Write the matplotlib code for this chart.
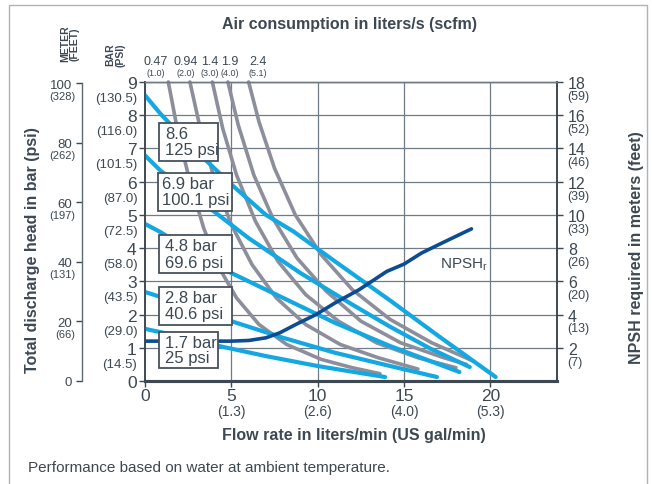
import numpy as np
import matplotlib.pyplot as plt
from matplotlib.patches import Rectangle

plt.rcParams['font.family'] = ['Liberation Sans', 'DejaVu Sans']
plt.rcParams['mathtext.fontset'] = 'custom'
plt.rcParams['mathtext.rm'] = 'Liberation Sans'

TEXT = '#3d4852'
BLUE = '#13a8e2'
GRAY = '#8c8e9b'
NAVY = '#0c4c93'
GRID = '#6f7b87'

# Head axis (bar) with psi equivalents
head_bar = [0, 1, 2, 3, 4, 5, 6, 7, 8, 9]
head_psi = ['', '(14.5)', '(29.0)', '(43.5)', '(58.0)', '(72.5)', '(87.0)', '(101.5)', '(116.0)', '(130.5)']

# Head axis (meters) with feet equivalents
head_m = [0, 20, 40, 60, 80, 100]
head_ft = ['', '(66)', '(131)', '(197)', '(262)', '(328)']

# NPSH axis (meters) with feet equivalents
npsh_m = [2, 4, 6, 8, 10, 12, 14, 16, 18]
npsh_ft = ['(7)', '(13)', '(20)', '(26)', '(33)', '(39)', '(46)', '(52)', '(59)']

# Flow axis (l/min) with US gal/min equivalents
flow_lpm = [0, 5, 10, 15, 20]
flow_gpm = ['', '(1.3)', '(2.6)', '(4.0)', '(5.3)']

# Air consumption labels, liters/s (scfm)
air_ls = ['0.47', '0.94', '1.4', '1.9', '2.4']
air_scfm = ['(1.0)', '(2.0)', '(3.0)', '(4.0)', '(5.1)']
air_label_x = [0.64, 2.37, 3.76, 4.92, 6.54]

# Performance curves at each inlet air pressure: flow (l/min), head (bar)
perf_labels = [('8.6', '125 psi'), ('6.9 bar', '100.1 psi'), ('4.8 bar', '69.6 psi'),
               ('2.8 bar', '40.6 psi'), ('1.7 bar', '25 psi')]
perf_flow = [
    [0, 0.9, 3, 5.1, 7, 8.6, 11, 14.2, 17, 20.3],
    [0, 0.9, 3, 6, 9, 12, 14.2, 16.5, 18.8],
    [0, 0.9, 3, 5, 8, 11, 14.2, 16, 18.2],
    [0, 0.9, 3, 5, 8, 11, 14.2, 16.9],
    [0, 0.9, 2, 4.4, 7, 10, 12, 13.9],
]
perf_head = [
    [8.6, 8.04, 6.9, 5.87, 5.0, 4.5, 3.6, 2.42, 1.35, 0.12],
    [6.79, 6.33, 5.5, 4.3, 3.25, 2.3, 1.63, 0.98, 0.42],
    [4.73, 4.48, 3.8, 3.25, 2.5, 1.75, 1.05, 0.7, 0.27],
    [2.68, 2.53, 2.2, 1.8, 1.3, 0.85, 0.45, 0.12],
    [1.57, 1.47, 1.35, 1.04, 0.75, 0.45, 0.28, 0.12],
]

# Air consumption curves: flow (l/min), head (bar)
air_flow = [
    [1.35, 1.9, 2.6, 3.4, 4.3, 5.3, 6.6, 8.2, 10.2, 12.0, 13.6],
    [2.6, 3.2, 4.0, 5.0, 6.2, 7.6, 9.3, 11.3, 13.5, 15.8],
    [3.9, 4.5, 5.3, 6.4, 7.7, 9.3, 11.2, 13.4, 15.8, 18.0],
    [4.8, 5.4, 6.3, 7.4, 8.8, 10.5, 12.5, 14.8, 17.3, 18.6],
    [6.0, 6.6, 7.5, 8.7, 10.2, 12.0, 14.2, 16.6, 19.0],
]
air_head = [
    [9, 7.5, 6.0, 4.6, 3.4, 2.5, 1.7, 1.1, 0.65, 0.4, 0.22],
    [9, 7.6, 6.1, 4.7, 3.5, 2.5, 1.7, 1.1, 0.7, 0.36],
    [9, 7.6, 6.2, 4.8, 3.6, 2.6, 1.8, 1.15, 0.7, 0.4],
    [9, 7.7, 6.2, 4.9, 3.7, 2.7, 1.8, 1.15, 0.7, 0.5],
    [9, 7.8, 6.4, 5.0, 3.8, 2.75, 1.85, 1.15, 0.6],
]

# NPSH required: flow (l/min), meters
npsh_flow = [0, 5, 6, 7, 7.8, 8.8, 9.9, 11, 12.4, 14, 15, 16, 17.1, 18.9]
npsh_req = [2.4, 2.4, 2.44, 2.6, 2.9, 3.44, 4.0, 4.7, 5.5, 6.6, 7.04, 7.7, 8.26, 9.16]

W, H = 652, 485
fig = plt.figure(figsize=(W / 100, H / 100), dpi=100)

# outer frame
fig.patches.append(Rectangle((9 / W, -0.05), (647 - 9) / W, 1.05 - 6 / H,
                             transform=fig.transFigure, fill=False,
                             ec='#aab4be', lw=1.0))

ax = fig.add_axes([145 / W, 1 - 382 / H, (557 - 145) / W, (382 - 83) / H])
ax.set_xlim(0, 23.85)
ax.set_ylim(0, 9)

for x in [5, 10, 15, 20]:
    ax.axvline(x, color=GRID, lw=0.9, zorder=1)
for y in range(1, 10):
    ax.axhline(y, color=GRID, lw=0.9, zorder=1)

for f, h in zip(air_flow, air_head):
    ax.plot(f, h, color=GRAY, lw=2.6, solid_capstyle='round', zorder=2, clip_on=False)
for f, h in zip(perf_flow, perf_head):
    ax.plot(f, h, color=BLUE, lw=3.0, solid_capstyle='round', zorder=3)

ax2 = ax.twinx()
ax2.set_ylim(0, 18)
ax2.plot(npsh_flow, npsh_req, color=NAVY, lw=2.6, solid_capstyle='round', zorder=4)
ax2.text(17.1, 7.05, r'NPSH$_{\mathrm{r}}$', fontsize=11, color=TEXT, va='center')

# pressure label boxes
box_geom = [(0.8, 6.63, 3.45, 1.14), (0.78, 5.12, 4.25, 1.14), (0.8, 3.25, 4.23, 1.14),
            (0.8, 1.69, 4.22, 1.14), (0.8, 0.38, 3.45, 1.1)]
for (x0, y0, w, h), (l1, l2) in zip(box_geom, perf_labels):
    ax2.add_patch(Rectangle((x0, y0 * 2), w, h * 2, fc='white', ec='#46525e',
                            lw=1.3, zorder=6))
    tx = x0 + 0.36 if l1 != '6.9 bar' else x0 + 0.18
    ax2.text(tx, (y0 + h * 0.72) * 2, l1, fontsize=12, color=TEXT, va='center', zorder=7)
    ax2.text(tx, (y0 + h * 0.29) * 2, l2, fontsize=12, color=TEXT, va='center', zorder=7)

for a in (ax, ax2):
    for s in a.spines.values():
        s.set_color('#3d4852')
        s.set_linewidth(1.2)
    a.spines['top'].set_color(GRID)
    a.spines['top'].set_linewidth(1.0)
ax.spines['bottom'].set_linewidth(2.2)
ax2.spines['bottom'].set_linewidth(2.2)

# left head axis (bar / psi)
ax.set_yticks(head_bar)
ax.set_yticklabels([str(v) for v in head_bar])
ax.tick_params(axis='y', length=4, width=1, colors=TEXT, labelsize=12.5, pad=2)
for v, t in zip(head_bar, head_psi):
    ax.annotate(t, xy=(0, v), xycoords=('axes fraction', 'data'), xytext=(-5.5, -11.5),
                textcoords='offset points', ha='right', va='center', fontsize=9.5, color=TEXT)

# flow axis
ax.set_xticks(flow_lpm)
ax.set_xticklabels([str(v) for v in flow_lpm])
ax.tick_params(axis='x', length=4, width=1, colors=TEXT, labelsize=12.5, pad=1)
for v, t in zip(flow_lpm, flow_gpm):
    ax.annotate(t, xy=(v, 0), xycoords=('data', 'axes fraction'), xytext=(0, -21.5),
                textcoords='offset points', ha='center', va='center', fontsize=10, color=TEXT)

# NPSH axis
ax2.set_yticks(npsh_m)
ax2.set_yticklabels([str(v) for v in npsh_m])
ax2.tick_params(axis='y', length=4, width=1, colors=TEXT, labelsize=11.5, pad=4)
for v, t in zip(npsh_m, npsh_ft):
    ax2.annotate(t, xy=(1, v), xycoords=('axes fraction', 'data'), xytext=(7.5, -10),
                 textcoords='offset points', ha='left', va='center', fontsize=9, color=TEXT)

# air consumption labels along the top
for x, t1, t2 in zip(air_label_x, air_ls, air_scfm):
    ax.annotate(t1, xy=(x, 1), xycoords=('data', 'axes fraction'), xytext=(0, 15),
                textcoords='offset points', ha='center', va='center', fontsize=9, color=TEXT)
    ax.annotate(t2, xy=(x, 1), xycoords=('data', 'axes fraction'), xytext=(0, 6.5),
                textcoords='offset points', ha='center', va='center', fontsize=6.5, color=TEXT)

# head axis in meters (feet)
axm = fig.add_axes([82 / W, 1 - 382 / H, 0.001, (382 - 83) / H])
axm.set_ylim(0, 100.5)
axm.set_xticks([])
for s in ['right', 'top', 'bottom']:
    axm.spines[s].set_visible(False)
axm.spines['left'].set_bounds(0, 100)
axm.spines['left'].set_color('#5d6975')
axm.spines['left'].set_linewidth(1.0)
axm.patch.set_visible(False)
axm.set_yticks(head_m)
axm.set_yticklabels([str(v) for v in head_m])
axm.tick_params(axis='y', length=4, width=1, colors=TEXT, labelsize=9.5, pad=3)
for v, t in zip(head_m, head_ft):
    axm.annotate(t, xy=(0, v), xycoords=('axes fraction', 'data'), xytext=(-4.5, -9),
                 textcoords='offset points', ha='right', va='center', fontsize=8, color=TEXT)

fig.text(70 / W, 1 - 44 / H, 'METER\n(FEET)', rotation=90, fontsize=7.5, fontweight='bold',
         color=TEXT, ha='center', va='center', linespacing=1.0)
fig.text(115 / W, 1 - 55 / H, 'BAR\n(PSI)', rotation=90, fontsize=7.5, fontweight='bold',
         color=TEXT, ha='center', va='center', linespacing=1.0)

fig.text(350 / W, 1 - 24 / H, 'Air consumption in liters/s (scfm)', fontsize=11.5,
         fontweight='bold', color=TEXT, ha='center', va='center')
fig.text(354 / W, 1 - 436 / H, 'Flow rate in liters/min (US gal/min)', fontsize=11.5,
         fontweight='bold', color=TEXT, ha='center', va='center')
fig.text(33 / W, 1 - 250 / H, 'Total discharge head in bar (psi)', rotation=90,
         fontsize=11.5, fontweight='bold', color=TEXT, ha='center', va='center')
fig.text(636 / W, 1 - 248 / H, 'NPSH required in meters (feet)', rotation=90,
         fontsize=11.5, fontweight='bold', color=TEXT, ha='center', va='center')
fig.text(28 / W, 1 - 468 / H, 'Performance based on water at ambient temperature.',
         fontsize=11, color=TEXT, ha='left', va='center')

fig.savefig('out.png', dpi=100)
